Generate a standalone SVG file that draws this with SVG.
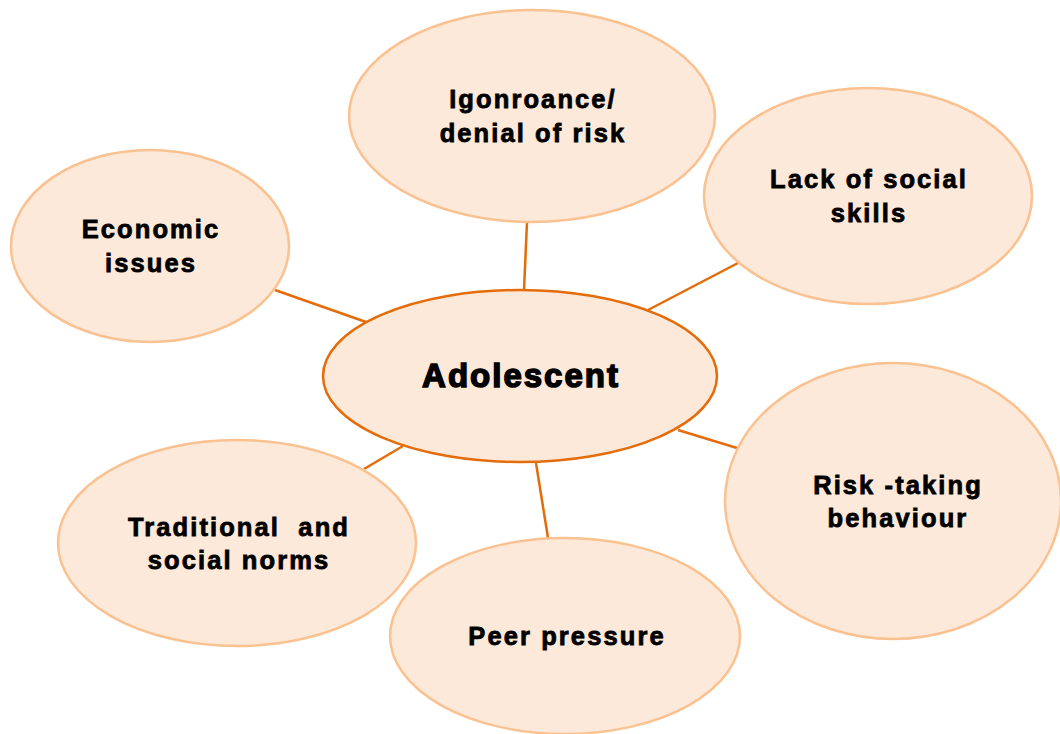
<svg xmlns="http://www.w3.org/2000/svg" width="1060" height="734" viewBox="0 0 1060 734">
<style>
.sat{fill:#FDE9D9;stroke:#FAC191;stroke-width:2.5}
.ctr{fill:#FDE9D9;stroke:#E46C0A;stroke-width:2.5}
.lbl{font-family:"Liberation Sans",Arial,sans-serif;font-weight:bold;font-size:25.5px;fill:#000;stroke:#000;stroke-width:0.8;text-anchor:middle;letter-spacing:2.1px}
.big{font-family:"Liberation Sans",Arial,sans-serif;font-weight:bold;font-size:33px;fill:#000;stroke:#000;stroke-width:1.5;text-anchor:middle;letter-spacing:2px}
.con{stroke:#E46C0A;stroke-width:2.5;fill:none}
</style>
<rect width="1060" height="734" fill="#fff"/>
<g id="connectors">
<line class="con" x1="527" y1="222" x2="524" y2="290"/>
<line class="con" x1="738" y1="263" x2="648" y2="310"/>
<line class="con" x1="275" y1="290" x2="366" y2="322"/>
<line class="con" x1="678" y1="430" x2="737" y2="448"/>
<line class="con" x1="364" y1="469" x2="403" y2="446"/>
<line class="con" x1="536" y1="463" x2="548" y2="538"/>
</g>
<g id="ignorance">
<ellipse class="sat" cx="532" cy="116" rx="183" ry="106"/>
<text class="lbl" x="533" y="108">Igonroance/</text>
<text class="lbl" x="533" y="142">denial of risk</text>
</g>
<g id="lack-social-skills">
<ellipse class="sat" cx="868" cy="196" rx="164" ry="108"/>
<text class="lbl" x="869" y="188">Lack of social</text>
<text class="lbl" x="869" y="222">skills</text>
</g>
<g id="economic">
<ellipse class="sat" cx="150" cy="246" rx="139" ry="96"/>
<text class="lbl" x="151" y="238">Economic</text>
<text class="lbl" x="151" y="272">issues</text>
</g>
<g id="risk-taking">
<ellipse class="sat" cx="893" cy="501" rx="168" ry="138"/>
<text class="lbl" x="898" y="494">Risk -taking</text>
<text class="lbl" x="898" y="527">behaviour</text>
</g>
<g id="traditional">
<ellipse class="sat" cx="237" cy="543" rx="179" ry="103"/>
<text class="lbl" x="239" y="536" xml:space="preserve">Traditional  and</text>
<text class="lbl" x="239" y="569">social norms</text>
</g>
<g id="peer">
<ellipse class="sat" cx="565" cy="636" rx="175" ry="98"/>
<text class="lbl" x="567" y="645">Peer pressure</text>
</g>
<g id="adolescent">
<ellipse class="ctr" cx="520" cy="376" rx="197" ry="86"/>
<text class="big" x="521" y="387">Adolescent</text>
</g>
</svg>
